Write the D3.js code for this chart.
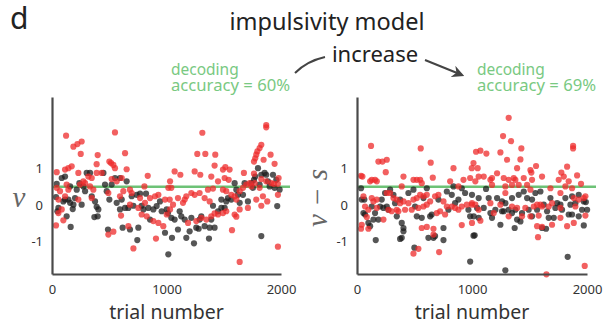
<!DOCTYPE html>
<html>
<head>
<meta charset="utf-8">
<script src="https://cdn.jsdelivr.net/npm/d3@7"></script>
<style>
  body { margin: 0; background: #fff; }
  text { font-family: "Noto Sans", "Open Sans", sans-serif; fill: #333; }
</style>
</head>
<body>
<div id="graph"></div>
<script>
// [trial, value] pairs
const leftBlack = [
  [41,.58],[35,.22],[56,-.08],[47,-.17],[99,.1],[114,.15],[143,.15],[158,.06],[128,-.31],[163,-.6],
  [181,-.11],[187,.01],[201,.19],[216,.42],[259,.01],[289,.38],[303,.88],[332,.88],[347,.24],[376,.1],
  [390,-.05],[405,-.12],[370,-.33],[399,-.31],[449,.88],[463,.56],[478,.38],[501,.15],[521,.56],[550,.74],
  [565,.06],[594,-.12],[609,.15],[594,.74],[638,-.08],[652,.65],[667,-.08],[681,-.67],[696,.24],[740,.28],
  [769,.31],[821,.31],[711,-.02],[783,-.02],[754,-.62],[745,-.96],[798,-.12],[841,-.08],[885,-.12],[914,-.03],
  [943,.1],[958,-.17],[1002,-.12],[987,-.76],[1016,-1.35],[856,-.4],[617,-.62],[489,-.67],[274,.51],[239,.6],
  [158,.51],[85,.74],[114,.78],
  [1013,-.22],[1042,-.35],[1071,-.4],[1048,-.9],[1115,-.17],[1100,-.67],[1159,-.4],[1173,-.9],[1202,-.72],[1217,-.35],
  [1240,-1.05],[1260,-.62],[1281,-.65],[1289,-.4],[1333,-.58],[1377,-.62],[1420,-.62],[1371,-.92],[1391,-.4],[1406,-.02],
  [1450,-.17],[1479,-.08],[1508,-.08],[1522,.1],[1537,.19],[1566,.15],[1595,.6],[1610,.42],[1624,.28],[1668,.28],
  [1682,.6],[1711,.1],[1741,.6],[1764,.69],[1775,.78],[1799,1.01],[1813,.56],[1828,.83],[1857,.88],[1871,.83],
  [1886,.65],[1901,.51],[1930,.83],[1944,.47],[1959,.69],[1988,.42],[1967,-.03],[1828,-.85],[1755,.47],[1639,.06],
  [1479,.15],[1304,-.31],[1129,-.31]
];
const leftRed = [
  [123,1.9],[187,1.6],[222,1.67],[259,1.74],[251,1.4],[550,1.99],[638,1.42],[399,1.37],[390,1.12],[41,.9],
  [114,.97],[143,1.01],[172,1.06],[230,.88],[274,.65],[318,.78],[347,.74],[390,.88],[434,.88],[501,1.19],
  [516,1.15],[536,1.1],[550,1.01],[521,.71],[565,.65],[609,.74],[652,.98],[836,.8],[41,.47],[128,.56],
  [143,.42],[70,.38],[56,.15],[114,.24],[230,.15],[245,.56],[289,.6],[332,.51],[361,.42],[594,.24],
  [623,.38],[681,.42],[696,.33],[769,.19],[812,.06],[856,.19],[900,.24],[929,.28],[987,.15],[681,.01],
  [754,-.08],[783,-.26],[827,-.31],[885,-.44],[929,-.49],[972,-.58],[1002,-.26],[1031,-.12],[35,-.56],[99,-.42],
  [492,-.81],[536,-.73],[667,-.58],[603,-.29],[711,-1.19],[908,-.92],[85,-.12],[56,-.22],[1016,.47],[1031,.65],
  [807,.51],[492,.33],[347,.19],
  [1313,1.98],[1871,2.19],[1871,2.13],[1828,1.65],[1813,1.56],[1793,1.47],[1784,1.38],[1775,1.28],[1764,1.19],[1269,1.4],
  [1339,1.4],[1426,1.38],[1071,.92],[1121,.83],[1246,.92],[1295,.83],[1391,.78],[1420,1.08],[1493,.97],[1514,1.04],
  [1551,.97],[1676,.88],[1764,.86],[1848,1.24],[1909,1.38],[1944,1.13],[1979,.74],[1828,.71],[1871,.65],[1915,.6],
  [1938,.58],[1973,.58],[1508,.74],[1543,.69],[1450,.65],[1362,.42],[1406,.45],[1042,.47],[1028,.15],[1159,.15],
  [1144,.06],[1217,.33],[1246,.28],[1289,.33],[1333,.19],[1377,.1],[1493,.42],[1522,.38],[1566,.28],[1595,.24],
  [1610,.15],[1639,.38],[1668,.47],[1697,.56],[1726,.6],[1741,.51],[1770,.6],[1813,.47],[1842,.24],[1880,.1],
  [1973,.28],[1639,-.12],[1595,-.26],[1522,-.17],[1493,-.22],[1450,-.26],[1420,-.23],[1391,-.31],[1348,-.4],[1304,-.35],
  [1260,-.44],[1188,-.49],[1711,-.08],[1828,-.02],[1572,-.69],[1639,-1.56],[1973,-1.14],[1610,-.32],[1784,.15],[1100,.19],
  [1173,.24],[1057,.01]
];
const rightBlack = [
  [35,.46],[41,.15],[56,-.22],[70,-.26],[99,-.49],[114,-.58],[143,-.4],[157,-.22],[163,-.96],[186,-.4],
  [201,-.04],[215,.15],[230,-.08],[259,-.04],[273,-.13],[288,.42],[317,.28],[331,.05],[346,-.31],[375,.15],
  [389,-.49],[404,-.63],[404,-.72],[375,-.93],[389,-.9],[447,.33],[491,.42],[505,-.04],[520,-.31],[563,-.35],
  [578,.19],[607,.46],[636,-.31],[650,-.26],[665,-.9],[679,-.85],[621,-.9],[708,.15],[752,-.63],[752,-.96],
  [781,.37],[795,-.13],[824,.28],[839,.51],[853,.05],[882,.15],[911,.46],[940,.33],[969,-.13],[984,-.31],
  [1013,-.84],[984,-1.55],[499,-1.17],[64,.15],[128,-.04],[244,.33],
  [1000,.28],[1058,.19],[1122,.44],[1145,.19],[1218,.19],[1261,.1],[1290,.05],[1348,.19],[1406,.28],[1450,.37],
  [1479,.19],[1522,.15],[1551,.33],[1595,.37],[1624,.01],[1682,.19],[1740,.05],[1769,.01],[1812,.19],[1870,.24],
  [1899,.05],[1928,.28],[1972,.1],[2001,-.13],[1044,-.08],[1102,-.08],[1160,-.22],[1203,-.13],[1261,-.17],[1276,-.17],
  [1319,-.13],[1377,-.13],[1435,-.22],[1493,-.13],[1566,-.13],[1653,-.17],[1725,-.08],[1783,-.13],[1856,.01],[1957,-.13],
  [1015,-.31],[1058,-.35],[1174,-.35],[1348,-.22],[1392,-.4],[1421,-.45],[1522,-.31],[1667,-.35],[1711,-.35],[1841,-.26],
  [1870,-.26],[1928,-.31],[1247,-.54],[1371,-.63],[1609,-.63],[1644,-.65],[1972,-.56],[1023,-.83],[1290,-1.79],[1832,-1.42],
  [1990,.08]
];
const rightRed = [
  [122,1.62],[554,1.55],[186,1.19],[221,1.19],[259,1.24],[250,.9],[641,1.16],[839,1.01],[35,.8],[47,.78],
  [114,.65],[128,.69],[157,.69],[172,.65],[404,.78],[389,.51],[491,.69],[520,.69],[549,.69],[563,.6],
  [659,.75],[810,.65],[882,.51],[926,.69],[984,.74],[998,1.01],[1013,1.15],[56,.24],[70,-.04],[128,.19],
  [143,.1],[172,.15],[259,.33],[288,.33],[317,.19],[346,.15],[375,.05],[404,.1],[447,.05],[491,.15],
  [520,.19],[549,.28],[578,.24],[607,.28],[636,.1],[679,.24],[708,.28],[752,.1],[781,-.04],[824,-.04],
  [853,-.08],[882,-.13],[911,-.04],[955,.01],[998,.01],[99,-.13],[172,-.08],[273,-.13],[302,-.17],[360,-.17],
  [418,-.13],[476,-.13],[534,-.08],[578,-.04],[607,.01],[694,-.22],[723,-.17],[766,-.26],[41,-.54],[35,-.65],
  [99,-.65],[85,-.33],[230,-.4],[607,-.6],[665,-.65],[665,-.81],[491,-1.33],[534,-1.2],[714,-1.29],[911,-.55],
  [563,-.63],[346,-.13],
  [1319,2.39],[1270,1.89],[1339,1.75],[1429,1.55],[1247,1.44],[1305,1.24],[1421,1.25],[1392,1.01],[1508,.96],[1516,.89],
  [1557,1.07],[1777,.89],[1827,1.05],[1879,1.62],[1879,1.55],[1914,.81],[1948,.58],[1035,1.46],[1073,1.49],[1125,1.41],
  [1049,1.01],[1102,.78],[1058,.78],[1029,.65],[1160,.69],[1174,.74],[1218,.87],[1276,.74],[1319,.69],[1363,.74],
  [1377,.69],[1450,.74],[1522,.69],[1609,.78],[1754,.69],[1798,.78],[1841,.65],[1174,.55],[1290,.51],[1348,.55],
  [1406,.55],[1479,.55],[1682,.46],[1870,.46],[1290,.33],[1508,.42],[1769,.33],[1812,.51],[1885,.19],[1928,.15],
  [1972,.19],[1986,.24],[1899,-.04],[1000,.05],[1029,.01],[1160,.05],[1247,.01],[1348,-.04],[1392,-.08],[1464,-.08],
  [1537,-.04],[1566,.01],[1595,.01],[1609,-.04],[1667,-.04],[1696,.05],[1769,-.08],[1058,-.13],[1189,-.22],[1319,-.31],
  [1435,-.31],[1508,-.31],[1580,-.29],[1769,-.35],[1566,-.58],[1696,-.54],[1827,-.58],[1885,-.49],[1986,-.29],[1609,-.6],
  [1574,-.88],[1980,-1.67],[1647,-1.9],[1000,-.49],[1073,-.43]
];

const xTicks = [0, 1000, 2000];
const yTicks = [1, 0, -1];
const threshold = 0.5;
const accuracies = ["accuracy = 60%", "accuracy = 69%"];

const width = 607, height = 324;
const svg = d3.select("#graph").append("svg")
    .attr("width", width)
    .attr("height", height);

const yScale = d3.scaleLinear().domain([-1.89, 2.96]).range([274, 97]);

function drawPanel(left, right, black, red, acc) {
    const xScale = d3.scaleLinear().domain([0, 2000]).range([left, right]);
    const g = svg.append("g");

    // threshold line, runs a bit past the axis end
    g.append("line")
        .attr("x1", xScale(0)).attr("x2", xScale(2000) + 9)
        .attr("y1", yScale(threshold)).attr("y2", yScale(threshold))
        .attr("stroke", "#6dc276").attr("stroke-width", 2.5);

    g.selectAll("circle.b").data(black).join("circle")
        .attr("class", "b")
        .attr("cx", d => xScale(d[0]))
        .attr("cy", d => yScale(d[1]))
        .attr("r", 3.1)
        .attr("fill", "#1e1e1e")
        .attr("fill-opacity", 0.75);

    g.selectAll("circle.r").data(red).join("circle")
        .attr("class", "r")
        .attr("cx", d => xScale(d[0]))
        .attr("cy", d => yScale(d[1]))
        .attr("r", 3.1)
        .attr("fill", "#ee2b2b")
        .attr("fill-opacity", 0.75);

    // axes without tick marks
    const bottom = g.append("g").attr("transform", `translate(0, ${yScale.range()[0]})`)
        .call(d3.axisBottom(xScale).tickValues(xTicks).tickSize(0).tickPadding(11).tickFormat(d3.format("d")));
    const leftAx = g.append("g").attr("transform", `translate(${left}, 0)`)
        .call(d3.axisLeft(yScale).tickValues(yTicks).tickSize(0).tickPadding(9).tickFormat(d => d < 0 ? "-" + Math.abs(d) : d));
    [bottom, leftAx].forEach(a => {
        a.select(".domain").attr("stroke", "#4a4a4a").attr("stroke-width", 2.2);
        a.selectAll("text").attr("font-size", 13).attr("fill", "#333")
            .style("font-family", "'Noto Sans', sans-serif");
    });

    g.append("text")
        .attr("x", (left + right) / 2).attr("y", 319)
        .attr("text-anchor", "middle")
        .attr("font-size", 19.5)
        .text("trial number");

    g.append("text")
        .attr("x", right - 110).attr("y", 75)
        .attr("font-size", 15.5).style("fill", "#79c982")
        .text("decoding");
    g.append("text")
        .attr("x", right - 110).attr("y", 91)
        .attr("font-size", 15.5).style("fill", "#79c982")
        .attr("textLength", 119).attr("lengthAdjust", "spacingAndGlyphs")
        .text(acc);

    return g;
}

drawPanel(52, 281, leftBlack, leftRed, accuracies[0]);
drawPanel(357, 587, rightBlack, rightRed, accuracies[1]);

// y labels in math italic
svg.append("text")
    .attr("x", 19).attr("y", 207)
    .attr("text-anchor", "middle")
    .attr("font-size", 29)
    .style("font-family", "'Liberation Serif', serif").style("font-style", "italic").style("fill", "#666")
    .text("v");
svg.append("text")
    .attr("transform", "translate(327, 198) rotate(-90)")
    .attr("text-anchor", "middle")
    .attr("font-size", 29)
    .style("font-family", "'Liberation Serif', serif").style("font-style", "italic").style("fill", "#666")
    .text("v − s");

// headings
svg.append("text")
    .attr("x", 10).attr("y", 29)
    .attr("font-size", 30)
    .style("fill", "#222")
    .text("d");
svg.append("text")
    .attr("x", 327).attr("y", 30)
    .attr("text-anchor", "middle")
    .attr("font-size", 23.5)
    .style("fill", "#222")
    .text("impulsivity model");
svg.append("text")
    .attr("x", 375).attr("y", 62)
    .attr("text-anchor", "middle")
    .attr("font-size", 22)
    .style("fill", "#222")
    .text("increase");

// arrows
const defs = svg.append("defs");
defs.append("marker")
    .attr("id", "head")
    .attr("viewBox", "0 0 10 10")
    .attr("refX", 8).attr("refY", 5)
    .attr("markerWidth", 6).attr("markerHeight", 6)
    .attr("orient", "auto")
    .append("path").attr("d", "M0,0 L10,5 L0,10 L3,5 Z").attr("fill", "#444");

svg.append("path")
    .attr("d", "M325,57 Q307,61 295,73")
    .attr("fill", "none").attr("stroke", "#444").attr("stroke-width", 2);
svg.append("path")
    .attr("d", "M425,60 L462,75")
    .attr("fill", "none").attr("stroke", "#444").attr("stroke-width", 2)
    .attr("marker-end", "url(#head)");
</script>
</body>
</html>
